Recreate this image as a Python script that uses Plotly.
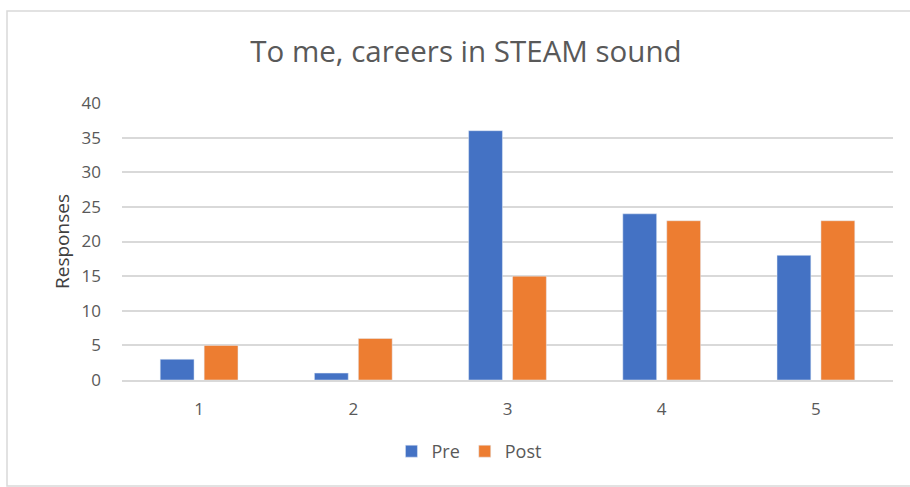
import plotly.graph_objects as go

categories = ["1", "2", "3", "4", "5"]
pre_values = [3, 1, 36, 24, 18]
post_values = [5, 6, 15, 23, 23]
y_ticks = [0, 5, 10, 15, 20, 25, 30, 35, 40]

BLUE = "#4472C4"
ORANGE = "#ED7D31"
GRID = "#D9D9D9"
TEXT = "#595959"
FONT = "Open Sans, Noto Sans, sans-serif"

fig = go.Figure()
fig.add_trace(go.Bar(name="Pre", x=categories, y=pre_values, marker_color=BLUE))
fig.add_trace(go.Bar(name="Post", x=categories, y=post_values, marker_color=ORANGE))

fig.update_layout(
    width=910,
    height=487,
    paper_bgcolor="white",
    plot_bgcolor="white",
    barmode="group",
    bargap=0.43,
    bargroupgap=0.23,
    margin=dict(l=122, r=17, t=103, b=107),
    font=dict(family=FONT, color=TEXT, size=17),
    title=dict(
        text="To me, careers in STEAM sound",
        x=0.512,
        xanchor="center",
        y=0.893,
        yanchor="middle",
        font=dict(family=FONT, size=29.5, color=TEXT),
    ),
    xaxis=dict(
        showgrid=False,
        showline=True,
        linecolor=GRID,
        linewidth=1.5,
        ticks="",
        ticklabelstandoff=13,
        tickfont=dict(size=17, color=TEXT),
    ),
    yaxis=dict(
        range=[0, 40],
        tickvals=y_ticks,
        showgrid=True,
        gridcolor=GRID,
        gridwidth=1.5,
        zeroline=False,
        showline=False,
        ticks="",
        ticklabelstandoff=20,
        tickfont=dict(size=17, color=TEXT),
        title=dict(text="Responses", font=dict(size=19, color="#404040"), standoff=6),
    ),
    legend=dict(
        orientation="h",
        x=0.45,
        xanchor="center",
        y=-0.258,
        yanchor="middle",
        font=dict(size=18, color=TEXT),
        itemwidth=30,
        traceorder="normal",
    ),
    showlegend=True,
)

# light outer frame around the chart
fig.add_shape(
    type="rect",
    xref="paper",
    yref="paper",
    x0=(7 - 122) / 771,
    x1=1.05,
    y0=(380 - 486) / 277,
    y1=(380 - 11) / 277,
    line=dict(color=GRID, width=1.5),
    layer="below",
)

fig.write_html("out.html")
